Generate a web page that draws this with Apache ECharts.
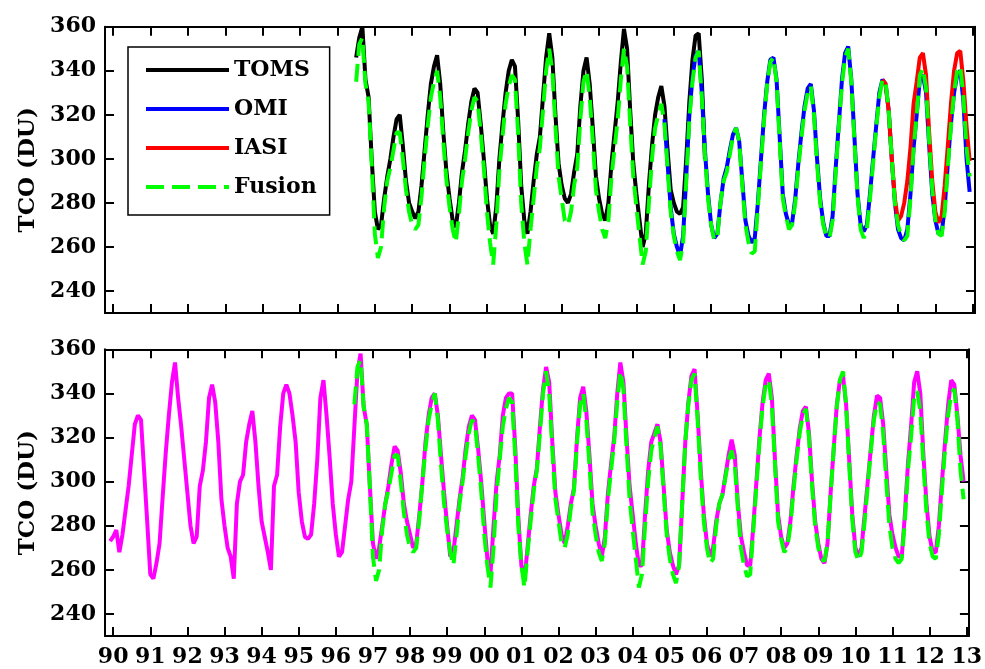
<!DOCTYPE html>
<html><head><meta charset="utf-8">
<script src="https://cdn.jsdelivr.net/npm/echarts@6/dist/echarts.min.js"></script>
<style>html,body{margin:0;padding:0;background:#fff}#c{width:985px;height:669px}</style>
</head><body><div id="c"></div>
<script>
// ---- data (decimal years, monthly values in DU) ----
const tickYears = [1990,1991,1992,1993,1994,1995,1996,1997,1998,1999,2000,2001,2002,2003,2004,2005,2006,2007,2008,2009,2010,2011,2012,2013];
const tickLabels = ['90','91','92','93','94','95','96','97','98','99','00','01','02','03','04','05','06','07','08','09','10','11','12','13'];
const yTicks = [240,260,280,300,320,340,360];

// merged record (magenta, lower panel), monthly from 1989.917
const mergedStart = 1989.917;
const mergedValues = [273,
 275,278,268,276,287,298,312,326,330,328,305,282,
 258,256,263,272,293,313,330,345,354,338,325,310,
 295,280,272,275,298,305,318,338,344,336,318,292,
 280,270,266,256,290,300,303,318,326,332,318,298,
 282,275,268,260,298,303,325,340,344,340,330,318,
 295,282,275,274,276,290,310,338,346,330,311,290,
 276,266,268,280,292,300,325,350,358,334,326,298,
 272,265,270,280,290,298,308,316,314,304,290,282,
 276,270,272,285,300,318,330,338,340,330,312,295,
 280,266,268,280,292,302,315,325,330,328,315,300,
 282,265,258,280,300,312,330,338,340,340,316,284,
 262,256,270,285,298,306,325,342,352,345,318,295,
 285,276,272,280,290,297,320,338,343,332,312,290,
 280,272,266,275,295,308,320,340,354,345,320,298,
 285,272,262,262,285,305,318,322,326,318,298,278,
 268,262,258,262,290,318,336,348,351,330,305,285,
 272,266,270,282,290,294,303,312,319,312,290,275,
 268,262,262,280,300,320,336,346,349,338,310,285,
 275,270,272,282,298,312,324,332,334,322,300,282,
 272,265,263,272,295,315,335,346,348,335,310,285,
 270,266,270,285,300,315,330,339,338,326,305,285,
 276,270,266,266,285,308,325,345,350,340,312,290,
 275,268,268,280,300,318,335,346,344,330,312,300];

// Fusion, monthly from 1996.5
const fusionStart = 1996.5;
const fusionValues = [
 335,352,355,334,326,298,
 266,255,260,278,290,296,304,312,312,300,286,276,
 270,268,270,283,300,315,328,335,340,328,308,290,
 278,268,262,275,290,300,312,322,328,326,312,296,
 276,262,252,270,295,310,325,333,338,336,312,280,
 262,252,268,282,296,305,322,340,350,340,315,292,
 282,272,270,276,288,296,318,335,340,328,308,286,
 276,268,264,272,292,305,318,336,350,342,316,292,
 278,265,252,258,280,300,314,320,325,316,296,276,
 265,258,254,262,290,318,335,346,349,328,302,282,
 270,263,265,280,290,294,302,310,314,308,288,270,
 262,257,258,278,298,318,334,344,346,335,308,282,
 274,268,270,280,296,310,322,330,333,320,298,280,
 270,265,264,272,294,315,334,346,350,335,308,283,
 268,264,268,282,298,314,328,336,335,322,300,280,
 270,265,263,265,282,305,320,338,341,332,308,286,
 272,266,265,276,296,315,330,340,342,328,305,292];

// TOMS, monthly from 1996.5
const tomsStart = 1996.5;
const tomsValues = [
 346,355,360,336,328,300,
 276,268,270,282,292,300,310,318,320,306,290,280,
 276,273,276,288,304,320,334,342,347,334,312,294,
 282,272,269,280,294,304,316,326,332,330,316,300,
 282,270,266,278,300,316,330,340,345,342,318,288,
 272,266,276,290,302,310,328,346,357,346,320,298,
 288,282,280,284,294,302,324,340,346,334,314,292,
 282,275,272,280,298,312,326,344,359,350,322,298,
 284,272,260,266,288,306,320,328,333,324,304,286,
 280,276,275,278,300,326,345,356,357,336,300];

// OMI, monthly from 2004.75
const omiStart = 2004.75;
const omiValues = [
 318,298,278,
 266,260,256,265,292,320,337,347,349,330,304,284,
 270,264,266,280,291,296,304,311,314,308,290,272,
 265,262,264,280,300,320,335,345,346,336,310,284,
 275,270,271,282,298,312,324,332,334,322,300,282,
 271,265,265,274,296,316,336,348,351,336,310,284,
 270,267,270,284,300,315,330,336,334,322,300,280,
 268,264,263,268,284,305,320,336,338,330,306,284,
 272,266,266,278,298,316,330,338,340,326,300,285];

// IASI, monthly from 2010.583
const iasiStart = 2010.583;
const iasiValues = [
 336,334,322,300,282,
 272,274,280,290,305,325,335,346,348,338,312,290,
 276,271,274,288,306,325,340,348,349,335,315,299];

// ---- chart ----
function toSeries(start, values) {
  return values.map((v, i) => [Math.round((start + i / 12) * 10000) / 10000, v]);
}
const FONT = 'DejaVu Serif';
const X_MIN = 1989.78, X_MAX = 2013.06;
const grids = [
  { left: 105, top: 26.7, width: 870, height: 286.3 },
  { left: 105, top: 349.3, width: 870, height: 286.7 }
];
const axisLine = { onZero: false, lineStyle: { color: '#000', width: 2 } };
const tickStyle = { color: '#000', width: 2 };
const labelFont = { color: '#000', fontFamily: FONT, fontWeight: 'bold', fontSize: 22 };

const xAxis = [];
const yAxis = [];
[0, 1].forEach(g => {
  ['bottom', 'top'].forEach(pos => {
    xAxis.push({
      type: 'value', gridIndex: g, position: pos, min: X_MIN, max: X_MAX,
      axisLine: axisLine,
      axisTick: { show: true, inside: true, length: 9, lineStyle: tickStyle, customValues: tickYears },
      axisLabel: Object.assign({
        show: g === 1 && pos === 'bottom', customValues: tickYears, margin: 10,
        formatter: v => tickLabels[tickYears.indexOf(Math.round(v))]
      }, labelFont),
      splitLine: { show: false }
    });
  });
  ['left', 'right'].forEach(pos => {
    yAxis.push({
      type: 'value', gridIndex: g, position: pos, min: 230, max: 360,
      name: pos === 'left' ? 'TCO (DU)' : '',
      nameLocation: 'middle', nameGap: 62,
      nameTextStyle: { color: '#000', fontFamily: FONT, fontWeight: 'bold', fontSize: 23 },
      axisLine: axisLine,
      axisTick: { show: true, inside: true, length: 9, lineStyle: tickStyle, customValues: yTicks },
      axisLabel: Object.assign({ show: pos === 'left', customValues: yTicks, margin: 9 }, labelFont),
      splitLine: { show: false }
    });
  });
});

function lineSeries(name, xi, yi, data, color, dashed, z) {
  return {
    type: 'line', name: name, xAxisIndex: xi, yAxisIndex: yi, data: data,
    symbol: 'none', showSymbol: false, z: z, animation: false,
    itemStyle: { color: color },
    lineStyle: { color: color, width: 4, type: dashed ? [18, 8] : 'solid' },
    emphasis: { disabled: true }
  };
}

const option = {
  backgroundColor: '#fff',
  animation: false,
  grid: grids,
  xAxis: xAxis,
  yAxis: yAxis,
  legend: {
    data: ['TOMS', 'OMI', 'IASI', 'Fusion'],
    orient: 'vertical', left: 128, top: 47,
    padding: [12, 13, 17, 16], itemGap: 17, itemWidth: 83, itemHeight: 14,
    borderColor: '#000', borderWidth: 1.5, backgroundColor: '#fff',
    textStyle: labelFont,
    itemStyle: { opacity: 0 },
    lineStyle: { width: 4 }
  },
  series: [
    lineSeries('TOMS', 0, 0, toSeries(tomsStart, tomsValues), '#000000', false, 2),
    lineSeries('OMI', 0, 0, toSeries(omiStart, omiValues), '#0000ff', false, 3),
    lineSeries('IASI', 0, 0, toSeries(iasiStart, iasiValues), '#ff0000', false, 4),
    lineSeries('Fusion', 0, 0, toSeries(fusionStart, fusionValues), '#00ff00', true, 5),
    lineSeries('Merged', 2, 2, toSeries(mergedStart, mergedValues), '#ff00ff', false, 2),
    lineSeries('Fusion ', 2, 2, toSeries(fusionStart, fusionValues), '#00ff00', true, 5)
  ]
};
const chart = echarts.init(document.getElementById('c'), null, { renderer: 'canvas' });
chart.setOption(option);
</script></body></html>
